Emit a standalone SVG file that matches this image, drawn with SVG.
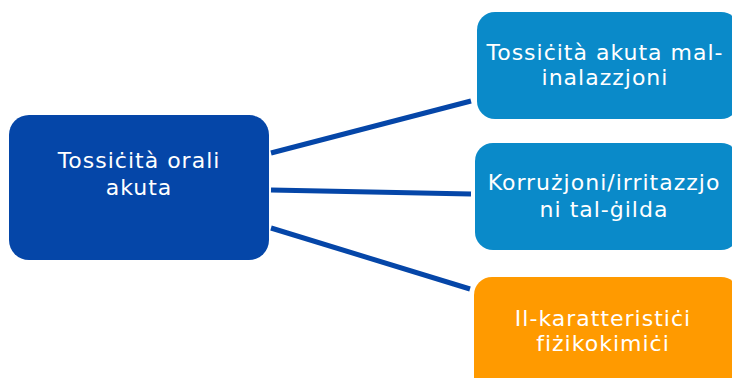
<svg xmlns="http://www.w3.org/2000/svg" width="732" height="378" viewBox="0 0 732 378">
<style>
.t{font-family:"DejaVu Sans","Verdana",sans-serif;fill:#ffffff;text-anchor:middle;font-size:22px;letter-spacing:1px}
.c{stroke:#0546A8;stroke-width:5;fill:none}
</style>
<rect width="732" height="378" fill="#ffffff"/>
<g id="connectors">
<line class="c" x1="271" y1="153" x2="471" y2="101"/>
<line class="c" x1="271" y1="190" x2="471" y2="194"/>
<line class="c" x1="271" y1="228" x2="470" y2="289"/>
</g>
<g id="main">
<rect x="9" y="115" width="260" height="145" rx="20" fill="#0546A8"/>
<text class="t" x="139" y="168">Tossiċità orali</text>
<text class="t" x="139" y="195">akuta</text>
</g>
<g id="n1">
<rect x="477" y="12" width="262" height="107" rx="18" fill="#0A8AC9"/>
<text class="t" x="605" y="60">Tossiċità akuta mal-</text>
<text class="t" x="605" y="85">inalazzjoni</text>
</g>
<g id="n2">
<rect x="475" y="143" width="264" height="107" rx="18" fill="#0A8AC9"/>
<text class="t" x="604" y="190">Korrużjoni/irritazzjo</text>
<text class="t" x="604" y="217">ni tal-ġilda</text>
</g>
<g id="n3">
<rect x="474" y="277" width="265" height="120" rx="18" fill="#FF9A00"/>
<text class="t" x="603" y="326">Il-karatteristiċi</text>
<text class="t" x="603" y="351">fiżikokimiċi</text>
</g>
</svg>
